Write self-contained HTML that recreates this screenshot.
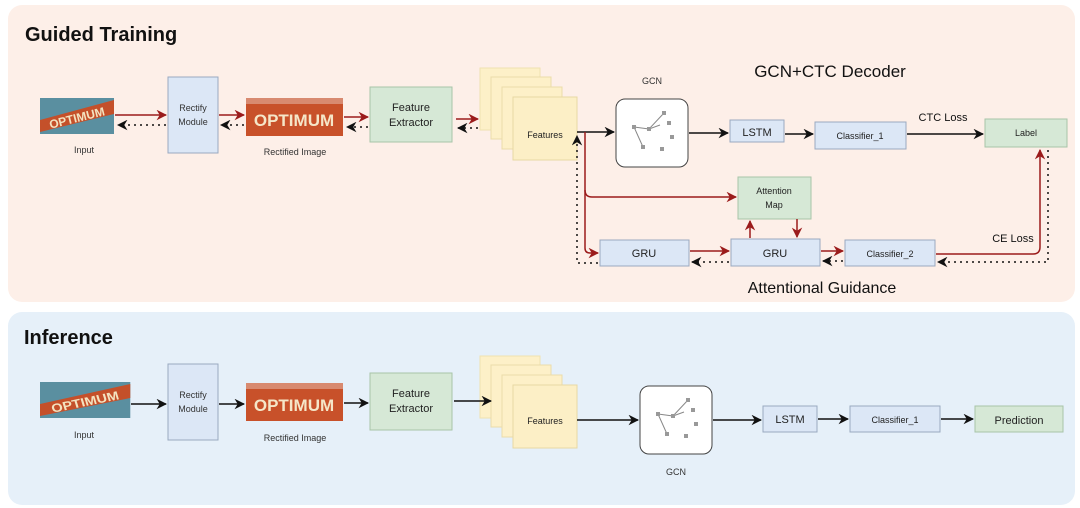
<!DOCTYPE html>
<html><head><meta charset="utf-8"><style>
html,body{margin:0;padding:0;background:#fff;}
svg{display:block;font-family:"Liberation Sans",Arial,sans-serif;}
</style></head><body>
<svg width="1080" height="508" viewBox="0 0 1080 508" xmlns="http://www.w3.org/2000/svg">
<defs>
<marker id="ar" viewBox="0 0 10 10" refX="9" refY="5" markerWidth="7" markerHeight="7" orient="auto"><path d="M0,0 L10,5 L0,10 L3,5z" fill="#9b1b1b"/></marker>
<marker id="ak" viewBox="0 0 10 10" refX="9" refY="5" markerWidth="7" markerHeight="7" orient="auto"><path d="M0,0 L10,5 L0,10 L3,5z" fill="#111"/></marker>
<g id="img1"><rect width="74" height="36" fill="#5a8fa0"/><polygon points="0,22 74,2 74,16 0,34" fill="#c4502a"/><text x="37" y="24" font-size="12" font-weight="bold" fill="#f3e3c0" text-anchor="middle" transform="rotate(-14 37 20)">OPTIMUM</text></g>
<g id="img2"><rect width="97" height="38" fill="#c8512a"/><rect width="97" height="6" fill="#d88a70"/><text x="48" y="28" font-size="17" font-weight="bold" fill="#f5e6c8" text-anchor="middle">OPTIMUM</text></g>
<g id="gcn"><rect width="72" height="68" rx="9" fill="#fff" stroke="#444" stroke-width="1"/><g stroke="#888" stroke-width="1"><line x1="18" y1="28" x2="33" y2="30"/><line x1="18" y1="28" x2="27" y2="48"/><line x1="33" y1="30" x2="48" y2="14"/><line x1="33" y1="30" x2="44" y2="26"/></g><g fill="#999"><rect x="16" y="26" width="4" height="4"/><rect x="31" y="28" width="4" height="4"/><rect x="46" y="12" width="4" height="4"/><rect x="51" y="22" width="4" height="4"/><rect x="54" y="36" width="4" height="4"/><rect x="25" y="46" width="4" height="4"/><rect x="44" y="48" width="4" height="4"/></g></g>
<g id="feat"><rect x="0" y="0" width="60" height="62" fill="#fdf0c8" stroke="#f0e2b0"/><rect x="11" y="9" width="60" height="62" fill="#fdf0c8" stroke="#eadcaa"/><rect x="22" y="19" width="60" height="62" fill="#fdf0c8" stroke="#eadcaa"/><rect x="33" y="29" width="64" height="63" fill="#fcefc6" stroke="#e8d8a4"/></g>
</defs>
<rect x="8" y="5" width="1067" height="297" rx="14" fill="#fdefe8"/>
<rect x="8" y="312" width="1067" height="193" rx="14" fill="#e6f0f9"/>
<text x="25" y="41" font-size="20" font-weight="bold" fill="#111">Guided Training</text>
<text x="24" y="344" font-size="20" font-weight="bold" fill="#111">Inference</text>

<!-- TOP -->
<use href="#img1" x="40" y="98"/>
<text x="84" y="153" font-size="9" text-anchor="middle" fill="#333">Input</text>
<rect x="168" y="77" width="50" height="76" fill="#dce7f6" stroke="#9aaac0"/>
<text x="193" y="111" font-size="9" text-anchor="middle" fill="#333">Rectify</text><text x="193" y="125" font-size="9" text-anchor="middle" fill="#333">Module</text>
<use href="#img2" x="246" y="98"/>
<text x="295" y="155" font-size="9" text-anchor="middle" fill="#333">Rectified Image</text>
<rect x="370" y="87" width="82" height="55" fill="#d6e8d6" stroke="#a8c4a8"/>
<text x="411" y="111" font-size="11" text-anchor="middle" fill="#222">Feature</text><text x="411" y="126" font-size="11" text-anchor="middle" fill="#222">Extractor</text>
<use href="#feat" x="480" y="68"/>
<text x="545" y="138" font-size="9" text-anchor="middle" fill="#222">Features</text>
<g stroke="#9b1b1b" stroke-width="1.5" fill="none">
<line x1="115" y1="115" x2="166" y2="115" marker-end="url(#ar)"/>
<line x1="219" y1="115" x2="244" y2="115" marker-end="url(#ar)"/>
<line x1="344" y1="117" x2="368" y2="117" marker-end="url(#ar)"/>
<line x1="456" y1="119" x2="478" y2="119" marker-end="url(#ar)"/>
</g>
<g stroke="#111" stroke-width="1.5" stroke-dasharray="2,4" fill="none">
<line x1="166" y1="125" x2="118" y2="125" marker-end="url(#ak)"/>
<line x1="244" y1="125" x2="221" y2="125" marker-end="url(#ak)"/>
<line x1="368" y1="127" x2="347" y2="127" marker-end="url(#ak)"/>
<line x1="478" y1="128" x2="458" y2="128" marker-end="url(#ak)"/>
</g>
<text x="652" y="84" font-size="9" text-anchor="middle" fill="#333">GCN</text>
<text x="830" y="77" font-size="17" text-anchor="middle" fill="#111">GCN+CTC Decoder</text>
<use href="#gcn" x="616" y="99"/>
<rect x="730" y="120" width="54" height="22" fill="#dce7f6" stroke="#9aaac0"/><text x="757" y="136" font-size="11" text-anchor="middle" fill="#222">LSTM</text>
<rect x="815" y="122" width="91" height="27" fill="#dce7f6" stroke="#9aaac0"/><text x="860" y="139" font-size="9" text-anchor="middle" fill="#222">Classifier_1</text>
<rect x="985" y="119" width="82" height="28" fill="#d6e8d6" stroke="#a8c4a8"/><text x="1026" y="136" font-size="9" text-anchor="middle" fill="#222">Label</text>
<text x="943" y="121" font-size="11" text-anchor="middle" fill="#111">CTC Loss</text>
<rect x="738" y="177" width="73" height="42" fill="#d6e8d6" stroke="#a8c4a8"/><text x="774" y="194" font-size="9" text-anchor="middle" fill="#222">Attention</text><text x="774" y="208" font-size="9" text-anchor="middle" fill="#222">Map</text>
<rect x="600" y="240" width="89" height="26" fill="#dce7f6" stroke="#9aaac0"/><text x="644" y="257" font-size="11" text-anchor="middle" fill="#222">GRU</text>
<rect x="731" y="239" width="89" height="27" fill="#dce7f6" stroke="#9aaac0"/><text x="775" y="257" font-size="11" text-anchor="middle" fill="#222">GRU</text>
<rect x="845" y="240" width="90" height="26" fill="#dce7f6" stroke="#9aaac0"/><text x="890" y="257" font-size="9" text-anchor="middle" fill="#222">Classifier_2</text>
<text x="1013" y="242" font-size="11" text-anchor="middle" fill="#111">CE Loss</text>
<text x="822" y="293" font-size="16" text-anchor="middle" fill="#111">Attentional Guidance</text>
<g stroke="#111" stroke-width="1.5" fill="none">
<polyline points="577,132 614,132" marker-end="url(#ak)"/>
<line x1="689" y1="133" x2="728" y2="133" marker-end="url(#ak)"/>
<line x1="785" y1="134" x2="813" y2="134" marker-end="url(#ak)"/>
<line x1="907" y1="134" x2="983" y2="134" marker-end="url(#ak)"/>
</g>
<g stroke="#9b1b1b" stroke-width="1.5" fill="none">
<path d="M585,132 V190 Q585,197 592,197 H736" marker-end="url(#ar)"/>
<path d="M585,190 V248 Q585,253 590,253 H598" marker-end="url(#ar)"/>
<line x1="690" y1="251" x2="729" y2="251" marker-end="url(#ar)"/>
<line x1="750" y1="238" x2="750" y2="221" marker-end="url(#ar)"/>
<line x1="797" y1="219" x2="797" y2="237" marker-end="url(#ar)"/>
<line x1="821" y1="251" x2="843" y2="251" marker-end="url(#ar)"/>
<path d="M936,254 H1033 Q1040,254 1040,247 V150" marker-end="url(#ar)"/>
</g>
<g stroke="#111" stroke-width="1.5" stroke-dasharray="2,4" fill="none">
<path d="M1048,150 V262 H938" marker-end="url(#ak)"/>
<line x1="843" y1="261" x2="823" y2="261" marker-end="url(#ak)"/>
<line x1="729" y1="262" x2="692" y2="262" marker-end="url(#ak)"/>
<path d="M598,263 H577 V136" marker-end="url(#ak)"/>
</g>

<!-- BOTTOM -->
<use href="#img1" x="40" y="382" transform="translate(40 382) scale(1.22 1) translate(-40 -382)"/>
<text x="84" y="438" font-size="9" text-anchor="middle" fill="#333">Input</text>
<rect x="168" y="364" width="50" height="76" fill="#dce7f6" stroke="#9aaac0"/>
<text x="193" y="398" font-size="9" text-anchor="middle" fill="#333">Rectify</text><text x="193" y="412" font-size="9" text-anchor="middle" fill="#333">Module</text>
<use href="#img2" x="246" y="383"/>
<text x="295" y="441" font-size="9" text-anchor="middle" fill="#333">Rectified Image</text>
<rect x="370" y="373" width="82" height="57" fill="#d6e8d6" stroke="#a8c4a8"/>
<text x="411" y="397" font-size="11" text-anchor="middle" fill="#222">Feature</text><text x="411" y="412" font-size="11" text-anchor="middle" fill="#222">Extractor</text>
<use href="#feat" x="480" y="356"/>
<text x="545" y="424" font-size="9" text-anchor="middle" fill="#222">Features</text>
<use href="#gcn" x="640" y="386"/>
<text x="676" y="475" font-size="9" text-anchor="middle" fill="#333">GCN</text>
<rect x="763" y="406" width="54" height="26" fill="#dce7f6" stroke="#9aaac0"/><text x="790" y="423" font-size="11" text-anchor="middle" fill="#222">LSTM</text>
<rect x="850" y="406" width="90" height="26" fill="#dce7f6" stroke="#9aaac0"/><text x="895" y="423" font-size="9" text-anchor="middle" fill="#222">Classifier_1</text>
<rect x="975" y="406" width="88" height="26" fill="#d6e8d6" stroke="#a8c4a8"/><text x="1019" y="424" font-size="11" text-anchor="middle" fill="#222">Prediction</text>
<g stroke="#111" stroke-width="1.5" fill="none">
<line x1="131" y1="404" x2="166" y2="404" marker-end="url(#ak)"/>
<line x1="219" y1="404" x2="244" y2="404" marker-end="url(#ak)"/>
<line x1="344" y1="403" x2="368" y2="403" marker-end="url(#ak)"/>
<line x1="454" y1="401" x2="491" y2="401" marker-end="url(#ak)"/>
<line x1="577" y1="420" x2="638" y2="420" marker-end="url(#ak)"/>
<line x1="713" y1="420" x2="761" y2="420" marker-end="url(#ak)"/>
<line x1="818" y1="419" x2="848" y2="419" marker-end="url(#ak)"/>
<line x1="941" y1="419" x2="973" y2="419" marker-end="url(#ak)"/>
</g>
</svg>
</body></html>
